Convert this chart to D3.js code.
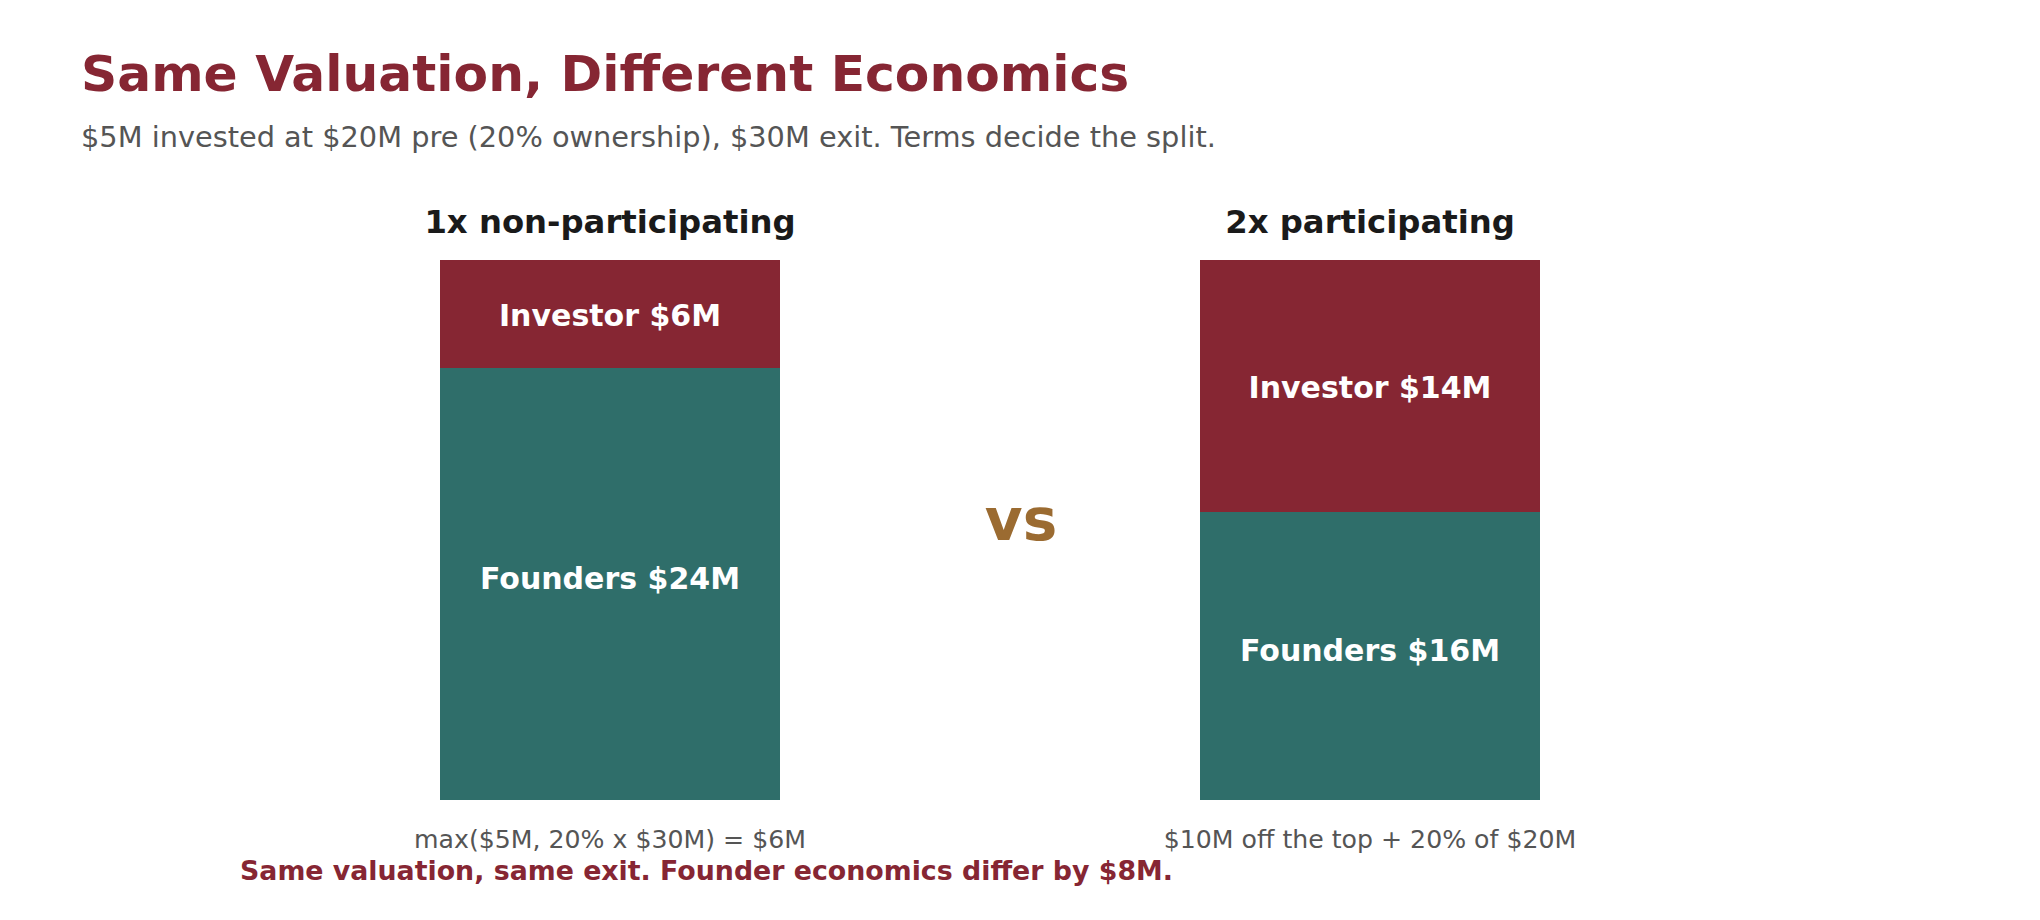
<!DOCTYPE html>
<html>
<head>
<meta charset="utf-8">
<script src="https://cdn.jsdelivr.net/npm/d3@7"></script>
<style>
  html, body { margin: 0; padding: 0; background: #ffffff; }
  svg { display: block; font-family: "DejaVu Sans", sans-serif; }
</style>
</head>
<body>
<svg id="chart" width="2040" height="920"></svg>
<script>
// ---- data ----
const scenarios = ["1x non-participating", "2x participating"];
const investorValues = [6, 14];
const founderValues = [24, 16];
const formulas = ["max($5M, 20% x $30M) = $6M", "$10M off the top + 20% of $20M"];
const exitValue = 30;
const titleText = "Same Valuation, Different Economics";
const subtitleText = "$5M invested at $20M pre (20% ownership), $30M exit. Terms decide the split.";
const footerText = "Same valuation, same exit. Founder economics differ by $8M.";
const vsText = "vs";

// ---- styles ----
const colInvestor = "#862633";
const colFounder = "#2f6e6a";
const colTitle = "#862633";
const colGray = "#555555";
const colDark = "#1a1a1a";
const colVs = "#9b6b31";

const svg = d3.select("#chart");

const x = d3.scaleBand()
  .domain(scenarios)
  .range([440, 1540])
  .paddingInner(1 - 340 / 760)
  .paddingOuter(0);

const y = d3.scaleLinear().domain([0, exitValue]).range([800, 260]);

const rows = scenarios.map((s, i) => ({
  scenario: s,
  founders: founderValues[i],
  investor: investorValues[i],
  formula: formulas[i]
}));

const stack = d3.stack().keys(["founders", "investor"]);
const series = stack(rows);
const colors = { founders: colFounder, investor: colInvestor };
const labelNames = { founders: "Founders", investor: "Investor" };
const labelShift = { founders: -6, investor: 1 };

const g = svg.append("g");

series.forEach(layer => {
  const key = layer.key;
  g.selectAll(null)
    .data(layer)
    .enter()
    .append("rect")
    .attr("x", d => x(d.data.scenario))
    .attr("width", x.bandwidth())
    .attr("y", d => y(d[1]))
    .attr("height", d => y(d[0]) - y(d[1]))
    .attr("fill", colors[key]);

  g.selectAll(null)
    .data(layer)
    .enter()
    .append("text")
    .attr("x", d => x(d.data.scenario) + x.bandwidth() / 2)
    .attr("y", d => (y(d[0]) + y(d[1])) / 2 + labelShift[key])
    .attr("dy", "0.36em")
    .attr("text-anchor", "middle")
    .attr("fill", "#ffffff")
    .attr("font-weight", "bold")
    .attr("font-size", "30px")
    .text(d => `${labelNames[key]} $${d.data[key]}M`);
});

// headers
g.selectAll(null)
  .data(rows)
  .enter()
  .append("text")
  .attr("x", d => x(d.scenario) + x.bandwidth() / 2)
  .attr("y", 233)
  .attr("text-anchor", "middle")
  .attr("fill", colDark)
  .attr("font-weight", "bold")
  .attr("font-size", "32.3px")
  .text(d => d.scenario);

// formulas
g.selectAll(null)
  .data(rows)
  .enter()
  .append("text")
  .attr("x", d => x(d.scenario) + x.bandwidth() / 2)
  .attr("y", 848)
  .attr("text-anchor", "middle")
  .attr("fill", colGray)
  .attr("font-size", "25.2px")
  .text(d => d.formula);

// vs
svg.append("text")
  .attr("x", 1021)
  .attr("y", 540)
  .attr("text-anchor", "middle")
  .attr("fill", colVs)
  .attr("font-weight", "bold")
  .attr("font-size", "58px")
  .text(vsText);

// title & subtitle
svg.append("text")
  .attr("x", 81)
  .attr("y", 91)
  .attr("fill", colTitle)
  .attr("font-weight", "bold")
  .attr("font-size", "50.3px")
  .text(titleText);

svg.append("text")
  .attr("x", 81)
  .attr("y", 147)
  .attr("fill", colGray)
  .attr("font-size", "28.8px")
  .text(subtitleText);

// footer
svg.append("text")
  .attr("x", 240)
  .attr("y", 880)
  .attr("fill", colTitle)
  .attr("font-weight", "bold")
  .attr("font-size", "26.8px")
  .text(footerText);
</script>
</body>
</html>
